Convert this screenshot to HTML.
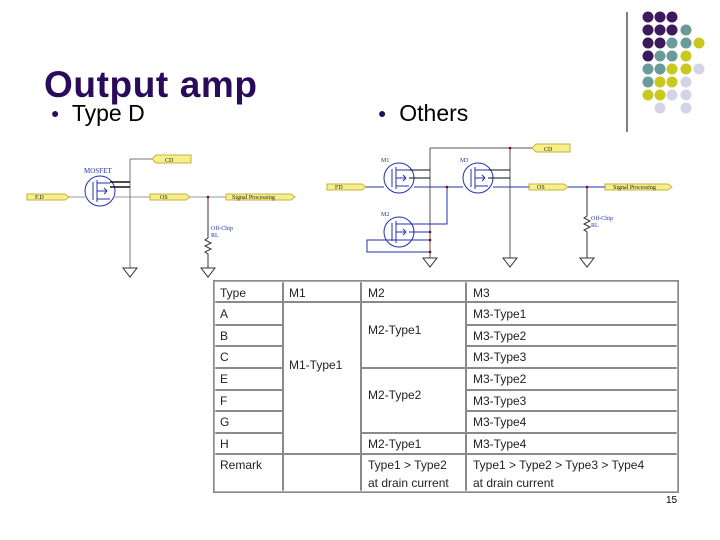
<!DOCTYPE html>
<html><head><style>
body{margin:0;width:720px;height:540px;background:#fff;position:relative;overflow:hidden;font-family:"Liberation Sans",sans-serif}
.t{position:absolute;white-space:nowrap}
</style></head><body>
<div class="t" style="left:44px;top:64px;font-size:37px;font-weight:bold;color:#2a0a5a;letter-spacing:0.6px">Output amp</div>
<div class="t" style="left:51px;top:100px;font-size:23px;color:#000"><span style="color:#2a0a5a;font-size:14px;position:relative;top:-3px">●</span>&nbsp; Type D</div>
<div class="t" style="left:378px;top:100px;font-size:23px;color:#000"><span style="color:#2a0a5a;font-size:14px;position:relative;top:-3px">●</span>&nbsp; Others</div>
<svg width="720" height="540" style="position:absolute;left:0;top:0" font-family="Liberation Serif,serif">
<line x1="627" y1="12" x2="627" y2="132" stroke="#000" stroke-width="1"/>
<g>
<circle cx="648" cy="17" r="5.5" fill="#3d1a5e"/><circle cx="660" cy="17" r="5.5" fill="#3d1a5e"/><circle cx="672" cy="17" r="5.5" fill="#3d1a5e"/>
<circle cx="648" cy="30" r="5.5" fill="#3d1a5e"/><circle cx="660" cy="30" r="5.5" fill="#3d1a5e"/><circle cx="672" cy="30" r="5.5" fill="#3d1a5e"/><circle cx="686" cy="30" r="5.5" fill="#6a9a9a"/>
<circle cx="648" cy="43" r="5.5" fill="#3d1a5e"/><circle cx="660" cy="43" r="5.5" fill="#3d1a5e"/><circle cx="672" cy="43" r="5.5" fill="#6a9a9a"/><circle cx="686" cy="43" r="5.5" fill="#6a9a9a"/><circle cx="699" cy="43" r="5.5" fill="#c8c81e"/>
<circle cx="648" cy="56" r="5.5" fill="#3d1a5e"/><circle cx="660" cy="56" r="5.5" fill="#6a9a9a"/><circle cx="672" cy="56" r="5.5" fill="#6a9a9a"/><circle cx="686" cy="56" r="5.5" fill="#c8c81e"/>
<circle cx="648" cy="69" r="5.5" fill="#6a9a9a"/><circle cx="660" cy="69" r="5.5" fill="#6a9a9a"/><circle cx="672" cy="69" r="5.5" fill="#c8c81e"/><circle cx="686" cy="69" r="5.5" fill="#c8c81e"/><circle cx="699" cy="69" r="5.5" fill="#d4d4e6"/>
<circle cx="648" cy="82" r="5.5" fill="#6a9a9a"/><circle cx="660" cy="82" r="5.5" fill="#c8c81e"/><circle cx="672" cy="82" r="5.5" fill="#c8c81e"/><circle cx="686" cy="82" r="5.5" fill="#d4d4e6"/>
<circle cx="648" cy="95" r="5.5" fill="#c8c81e"/><circle cx="660" cy="95" r="5.5" fill="#c8c81e"/><circle cx="672" cy="95" r="5.5" fill="#d4d4e6"/><circle cx="686" cy="95" r="5.5" fill="#d4d4e6"/>
<circle cx="660" cy="108" r="5.5" fill="#d4d4e6"/><circle cx="686" cy="108" r="5.5" fill="#d4d4e6"/>
</g>
<g stroke-width="1" fill="none">
<path d="M27 194 H65 L69 197 L65 200 H27Z" fill="#f6f08a" stroke="#c8b040"/>
<path d="M152 159 L156 155 H191 V163 H156Z" fill="#f6f08a" stroke="#c8b040"/>
<path d="M150 194 H186 L190 197 L186 200 H150Z" fill="#f6f08a" stroke="#c8b040"/>
<path d="M226 194 H291 L295 197 L291 200 H226Z" fill="#f6f08a" stroke="#c8b040"/>
<line x1="69" y1="197" x2="85" y2="197" stroke="#999"/>
<line x1="115" y1="197" x2="150" y2="197" stroke="#999"/>
<line x1="190" y1="197" x2="226" y2="197" stroke="#999"/>
<path d="M130 159 H152 M130 159 V268" stroke="#777"/>
<circle cx="100" cy="191" r="15" stroke="#2030b0"/>
<path d="M93 182 V200 M97 180 V202 M97 183 H110 M97 191 H107 M97 199 H110 M107 191 L104 188 M107 191 L104 194" stroke="#2030b0"/>
<path d="M110 182 H130 M110 187 H130" stroke="#111" stroke-width="1.5"/>
<path d="M208 197 V238 l-3 2 l6 3 l-6 3 l6 3 l-6 3 l3 2 V268" stroke="#333"/>
<circle cx="208" cy="197" r="1.3" fill="#800"/>
<path d="M123 268 H137 L130 277Z M201 268 H215 L208 277Z" stroke="#333"/>
</g>
<g font-size="6" fill="#222">
<text x="35" y="199">F.D</text><text x="165" y="162">CD</text><text x="160" y="199">OS</text><text x="232" y="199">Signal Processing</text>
<text x="84" y="173" fill="#2030b0" font-size="7">MOSFET</text>
<text x="211" y="230" fill="#2030b0">Off-Chip</text><text x="211" y="237" fill="#2030b0">RL</text>
</g>
<g stroke-width="1" fill="none">
<path d="M327 184 H362 L366 187 L362 190 H327Z" fill="#f6f08a" stroke="#c8b040"/>
<path d="M532 148 L536 144 H570 V152 H536Z" fill="#f6f08a" stroke="#c8b040"/>
<path d="M529 184 H564 L568 187 L564 190 H529Z" fill="#f6f08a" stroke="#c8b040"/>
<path d="M605 184 H668 L672 187 L668 190 H605Z" fill="#f6f08a" stroke="#c8b040"/>
<path d="M366 187 H384 M414 187 H463 M493 187 H529 M568 187 H605" stroke="#2030b0"/>
<path d="M430 148 H532 M430 148 V258 M510 148 V258" stroke="#555"/>
<circle cx="399" cy="178" r="15" stroke="#2030b0"/>
<path d="M392 169 V187 M396 167 V189 M396 170 H409 M396 178 H406 M396 186 H409 M406 178 L403 175 M406 178 L403 181" stroke="#2030b0"/>
<path d="M409 170 H430 M409 178 H430" stroke="#111"/>
<circle cx="478" cy="178" r="15" stroke="#2030b0"/>
<path d="M471 169 V187 M475 167 V189 M475 170 H488 M475 178 H485 M475 186 H488 M485 178 L482 175 M485 178 L482 181" stroke="#2030b0"/>
<path d="M488 170 H510 M488 178 H510" stroke="#111"/>
<circle cx="399" cy="232" r="15" stroke="#2030b0"/>
<path d="M392 223 V241 M396 221 V243 M396 224 H409 M396 232 H406 M396 240 H409 M406 232 L403 229 M406 232 L403 235" stroke="#2030b0"/>
<path d="M447 187 V224 H409 M409 232 H430 M409 240 H430 M400 240 H367 V252 H430" stroke="#2030b0"/>
<path d="M587 187 V216 l-3 2 l6 3 l-6 3 l6 3 l-6 3 l3 2 V258" stroke="#333"/>
<g fill="#800"><circle cx="447" cy="187" r="1.3"/><circle cx="510" cy="148" r="1.3"/><circle cx="587" cy="187" r="1.3"/><circle cx="430" cy="232" r="1.3"/><circle cx="430" cy="240" r="1.3"/><circle cx="430" cy="252" r="1.3"/></g>
<path d="M423 258 H437 L430 267Z M503 258 H517 L510 267Z M580 258 H594 L587 267Z" stroke="#333"/>
</g>
<g font-size="6" fill="#222">
<text x="335" y="189">FD</text><text x="544" y="151">CD</text><text x="537" y="189">OS</text><text x="613" y="189">Signal Processing</text>
<text x="381" y="162" fill="#2030b0">M1</text><text x="460" y="162" fill="#2030b0">M3</text><text x="381" y="216" fill="#2030b0">M2</text>
<text x="591" y="220" fill="#2030b0">Off-Chip</text><text x="591" y="227" fill="#2030b0">RL</text>
</g>
<g stroke="#8a8a8a" stroke-width="2" fill="none">
<rect x="214" y="281" width="464" height="211"/>
<path d="M283 281 V492 M361 281 V492 M466 281 V492"/>
<path d="M214 302 H678 M214 325 H283 M466 325 H678 M214 346 H283 M466 346 H678 M214 368 H283 M361 368 H678 M214 390 H283 M466 390 H678 M214 411 H283 M466 411 H678 M214 433 H283 M361 433 H678 M214 454 H678"/>
</g>
<g stroke="#fff" stroke-width="0.6" fill="none">
<rect x="215" y="282" width="462" height="209"/>
</g>
</svg>
<div style="position:absolute;left:0;top:0;font-family:'Liberation Sans',sans-serif;font-size:12px;color:#222">
<div class="t" style="left:220px;top:286px">Type</div><div class="t" style="left:289px;top:286px">M1</div><div class="t" style="left:368px;top:286px">M2</div><div class="t" style="left:473px;top:286px">M3</div>
<div class="t" style="left:220px;top:307px">A</div><div class="t" style="left:220px;top:329px">B</div><div class="t" style="left:220px;top:350px">C</div><div class="t" style="left:220px;top:372px">E</div><div class="t" style="left:220px;top:394px">F</div><div class="t" style="left:220px;top:415px">G</div><div class="t" style="left:220px;top:437px">H</div><div class="t" style="left:220px;top:458px">Remark</div>
<div class="t" style="left:289px;top:358px">M1-Type1</div>
<div class="t" style="left:368px;top:323px">M2-Type1</div><div class="t" style="left:368px;top:388px">M2-Type2</div><div class="t" style="left:368px;top:437px">M2-Type1</div>
<div class="t" style="left:368px;top:458px">Type1 &gt; Type2</div><div class="t" style="left:368px;top:476px">at drain current</div>
<div class="t" style="left:473px;top:307px">M3-Type1</div><div class="t" style="left:473px;top:329px">M3-Type2</div><div class="t" style="left:473px;top:350px">M3-Type3</div><div class="t" style="left:473px;top:372px">M3-Type2</div><div class="t" style="left:473px;top:394px">M3-Type3</div><div class="t" style="left:473px;top:415px">M3-Type4</div><div class="t" style="left:473px;top:437px">M3-Type4</div>
<div class="t" style="left:473px;top:458px">Type1 &gt; Type2 &gt; Type3 &gt; Type4</div><div class="t" style="left:473px;top:476px">at drain current</div>
<div class="t" style="left:666px;top:495px;font-size:10px;color:#000">15</div>
</div>
</body></html>
